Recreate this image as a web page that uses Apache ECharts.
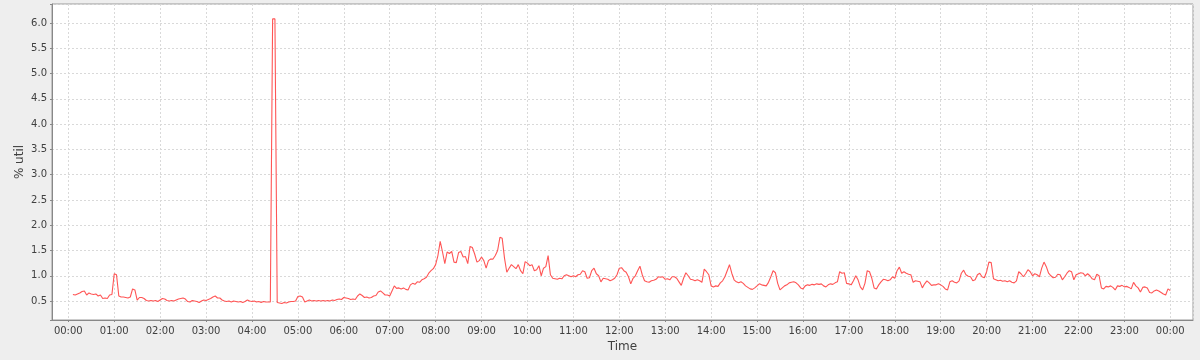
<!DOCTYPE html>
<html>
<head>
<meta charset="utf-8">
<script src="https://cdn.jsdelivr.net/npm/echarts@6/dist/echarts.min.js"></script>
<style>
html,body{margin:0;padding:0;background:#eeeeee;}
#chart{width:1200px;height:360px;}
</style>
</head>
<body>
<div id="chart"></div>
<script>
// ---- data (3-minute samples, % util) ----
const sampleStepMinutes = 3;
const nightStartMinute = 6;      // 00:06
const utilNight = [
  0.63,0.62,0.64,0.66,0.69,0.70,0.62,0.66,0.64,0.63,0.64,0.60,0.62,0.55,0.56,0.55,0.62,0.63,
  1.04,1.02,0.60,0.58,0.58,0.57,0.56,0.58,0.74,0.72,0.52,0.57,0.57,0.55,0.51,0.50,0.51,0.50,0.51,0.49,
  0.52,0.55,0.54,0.51,0.50,0.51,0.50,0.52,0.54,0.55,0.56,0.54,0.49,0.48,0.51,0.50,0.49,0.47,0.50,0.52,
  0.51,0.53,0.55,0.58,0.60,0.56,0.56,0.52,0.50,0.49,0.50,0.48,0.50,0.49,0.48,0.49,0.47,0.49,0.52,0.50,
  0.49,0.50,0.48,0.49,0.47,0.49,0.48,0.48,0.48,6.08,6.08,0.47,0.46,0.45,0.47,0.46,0.48,0.49,0.49,0.50,
  0.59,0.60,0.58,0.48,0.50,0.52,0.50,0.51,0.50,0.51,0.50,0.51,0.50,0.51,0.50,0.52,0.51,0.53,0.54,0.53
];
const morningStartMinute = 360;  // 06:00
const utilMorning = [
  0.57,0.56,0.55,0.53,0.54,0.53,0.60,0.64,0.61,0.57,0.58,0.56,0.57,0.60,0.61,0.68,0.70,0.66,0.62,0.62,
  0.60,0.70,0.80,0.75,0.76,0.74,0.76,0.73,0.72,0.82,0.85,0.83,0.88,0.87,0.92,0.94,0.97,1.05,1.10,1.14,
  1.22,1.40,1.68,1.47,1.24,1.47,1.44,1.48,1.27,1.26,1.46,1.48,1.37,1.38,1.24,1.58,1.56,1.43,1.27,1.30,
  1.37,1.30,1.15,1.30,1.33,1.33,1.40,1.50,1.76,1.74,1.35,1.07,1.15,1.22,1.18,1.14,1.22,1.10,1.04,1.28,
  1.25,1.20,1.22,1.10,1.12,1.20,1.00,1.15,1.18,1.40,1.02,0.95,0.94,0.93,0.95,0.94,1.00,1.02,1.00,0.98,
  1.00,0.98,1.02,1.03,1.10,1.08,0.95,0.96,1.10,1.15,1.04,1.00,0.88,0.95,0.94,0.93,0.90,0.92,0.95,1.02
];
const afternoonStartMinute = 720; // 12:00
const utilAfternoon = [
  1.15,1.16,1.10,1.07,0.98,0.84,0.95,1.00,1.10,1.19,1.02,0.90,0.88,0.87,0.90,0.91,0.93,0.98,0.97,0.98,
  0.93,0.94,0.92,0.98,0.98,0.95,0.88,0.81,0.95,1.06,1.00,0.93,0.92,0.90,0.92,0.90,0.87,1.13,1.08,1.02,
  0.80,0.78,0.80,0.79,0.86,0.90,0.98,1.10,1.22,1.05,0.92,0.88,0.86,0.88,0.85,0.80,0.77,0.74,0.73,0.76,
  0.80,0.84,0.82,0.81,0.80,0.87,0.98,1.10,1.06,0.85,0.72,0.76,0.80,0.82,0.86,0.87,0.88,0.86,0.82,0.76,
  0.74,0.80,0.82,0.81,0.83,0.82,0.84,0.83,0.84,0.80,0.78,0.82,0.84,0.83,0.86,0.88,1.08,1.05,1.06,0.85,
  0.84,0.82,0.90,1.00,0.92,0.78,0.72,0.85,1.10,1.08,0.95,0.76,0.74,0.82,0.88,0.93,0.92,0.90,0.92,0.98
];
const eveningStartMinute = 1080;  // 18:00
const utilEvening = [
  0.95,1.10,1.17,1.05,1.08,1.05,1.03,1.02,0.87,0.90,0.89,0.88,0.76,0.84,0.90,0.86,0.81,0.82,0.82,0.84,
  0.82,0.79,0.74,0.72,0.88,0.90,0.87,0.86,0.90,1.05,1.11,1.02,0.99,0.98,0.90,0.92,1.02,1.05,0.98,0.96,
  1.08,1.27,1.26,0.94,0.92,0.90,0.91,0.89,0.90,0.88,0.90,0.87,0.86,0.90,1.08,1.04,0.98,1.04,1.12,1.08,
  1.00,1.04,1.02,0.98,1.15,1.27,1.18,1.05,1.00,0.96,0.97,1.03,1.02,0.92,0.98,1.05,1.10,1.08,0.92,1.02,
  1.04,1.06,1.05,1.00,1.04,1.00,0.94,0.92,1.03,1.00,0.76,0.74,0.79,0.78,0.80,0.77,0.72,0.80,0.79,0.81,
  0.78,0.79,0.77,0.74,0.87,0.80,0.76,0.68,0.77,0.78,0.76,0.67,0.66,0.70,0.72,0.70,0.67,0.64,0.62,0.74,
  0.71
];
const xAxisTitle = 'Time';
const yAxisTitle = '% util';
const yTickStep = 0.5;

// ---- build ----
const dayStart = new Date(2020, 0, 1, 0, 0, 0).getTime();
const MIN = 60000;
function toPoints(startMinute, values) {
  return values.map((v, i) => [dayStart + (startMinute + i * sampleStepMinutes) * MIN, v]);
}
const seriesData = []
  .concat(toPoints(nightStartMinute, utilNight))
  .concat(toPoints(morningStartMinute, utilMorning))
  .concat(toPoints(afternoonStartMinute, utilAfternoon))
  .concat(toPoints(eveningStartMinute, utilEvening));

function pad(n) { return (n < 10 ? '0' : '') + n; }
const labelFont = { fontFamily: 'DejaVu Sans', fontSize: 10, color: '#404040' };

const chart = echarts.init(document.getElementById('chart'), null, { renderer: 'canvas' });
chart.setOption({
  animation: false,
  backgroundColor: '#eeeeee',
  grid: {
    left: 52, top: 4, right: 7, bottom: 40,
    show: true, backgroundColor: '#ffffff', borderColor: '#9a9a9a', borderWidth: 1,
    containLabel: false
  },
  xAxis: {
    type: 'time',
    min: dayStart - 21.3 * MIN,
    max: dayStart + (1440 + 29.7) * MIN,
    minInterval: 3600000,
    maxInterval: 3600000,
    name: xAxisTitle,
    nameLocation: 'middle',
    nameGap: 21,
    nameMoveOverlap: false,
    nameTextStyle: { fontFamily: 'DejaVu Sans', fontSize: 12, color: '#404040' },
    axisLine: { show: true, lineStyle: { color: '#888888', width: 1 } },
    axisTick: { show: true, length: 2, inside: false, lineStyle: { color: '#888888' } },
    axisLabel: Object.assign({
      margin: 6,
      hideOverlap: false,
      formatter: function (val) {
        const d = new Date(val);
        if (d.getMinutes() !== 0 || d.getSeconds() !== 0) return '';
        return pad(d.getHours()) + ':' + pad(d.getMinutes());
      }
    }, labelFont),
    splitLine: { show: true, lineStyle: { color: '#d9d9d9', type: [2, 2], width: 1 } }
  },
  yAxis: {
    type: 'value',
    min: 0.125,
    max: 6.375,
    splitNumber: 12,
    minInterval: yTickStep,
    maxInterval: yTickStep,
    name: yAxisTitle,
    nameLocation: 'middle',
    nameGap: 26,
    nameMoveOverlap: false,
    nameRotate: 90,
    nameTextStyle: { fontFamily: 'DejaVu Sans', fontSize: 12, color: '#404040' },
    axisLine: { show: true, lineStyle: { color: '#888888', width: 1 } },
    axisTick: { show: true, length: 2, lineStyle: { color: '#888888' } },
    axisLabel: Object.assign({
      margin: 5,
      showMinLabel: true,
      showMaxLabel: true,
      formatter: function (v) {
        const k = v / yTickStep;
        if (Math.abs(k - Math.round(k)) > 1e-6) return '';
        return v.toFixed(1);
      }
    }, labelFont),
    splitLine: { show: true, lineStyle: { color: '#d9d9d9', type: [2, 2], width: 1 } }
  },
  series: [{
    type: 'line',
    data: seriesData,
    showSymbol: false,
    symbol: 'none',
    sampling: null,
    lineStyle: { color: '#ff5555', width: 1.1 },
    itemStyle: { color: '#ff5555' }
  }]
});
</script>
</body>
</html>
